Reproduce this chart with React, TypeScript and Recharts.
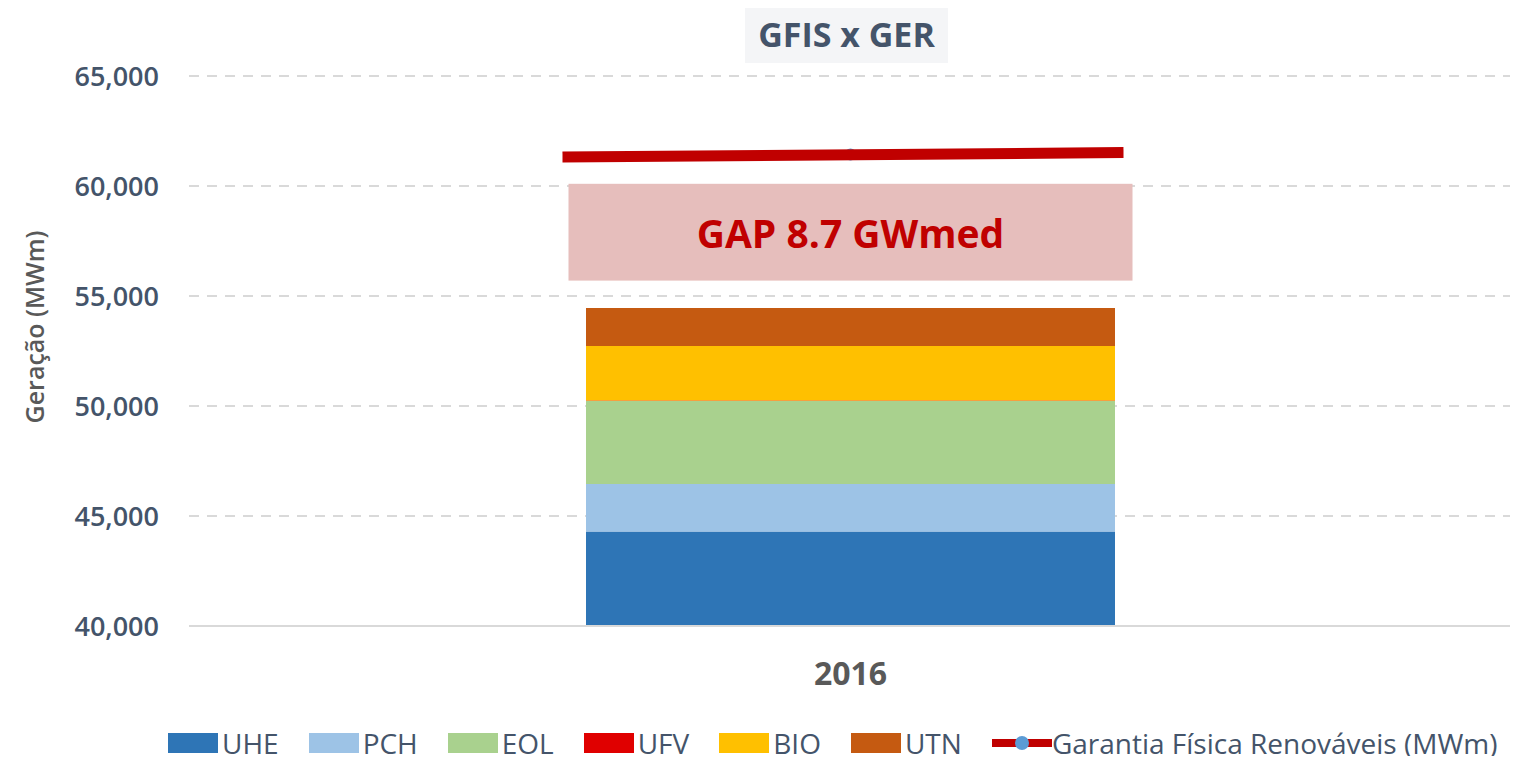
import React from "react";
import {
  ComposedChart,
  Bar,
  Line,
  XAxis,
  YAxis,
  CartesianGrid,
  ReferenceArea,
} from "recharts";

const years = ["2016"];
const uhe = [44300];
const pch = [2150];
const eol = [3780];
const ufv = [20];
const bio = [2480];
const utn = [1720];
const garantia = [61430];
const gapLow = 55700;
const gapHigh = 60100;
const gapText = "GAP 8.7 GWmed";
const yTicks = [40000, 45000, 50000, 55000, 60000, 65000];

const series = [
  { key: "UHE", color: "#2E75B6" },
  { key: "PCH", color: "#9DC3E6" },
  { key: "EOL", color: "#A9D18E" },
  { key: "UFV", color: "#E00000" },
  { key: "BIO", color: "#FFC000" },
  { key: "UTN", color: "#C55A11" },
];

const data = years.map((year, i) => ({
  year,
  UHE: uhe[i],
  PCH: pch[i],
  EOL: eol[i],
  UFV: ufv[i],
  BIO: bio[i],
  UTN: utn[i],
  GFR: garantia[i],
}));

const FONT = "'Open Sans', sans-serif";
const SLATE = "#44546A";

// red line drawn around the single point, wider than the bar
function GarantiaDot(props: any) {
  const { cx, cy } = props;
  if (cx == null || cy == null) return null;
  return (
    <g>
      <circle cx={cx} cy={cy} r={6} fill="#5B9BD5" />
      <line x1={cx - 288} y1={cy + 2.5} x2={cx + 273} y2={cy - 2} stroke="#C00000" strokeWidth={11} />
    </g>
  );
}

function GapBox(props: any) {
  const { x, y, width, height } = props;
  const mid = x + width / 2;
  return <rect x={mid - 282} y={y} width={564} height={height} fill="#E6BEBC" />;
}

function GapLabel(props: any) {
  const { viewBox } = props;
  const cx = viewBox.x + viewBox.width / 2;
  const cy = viewBox.y + viewBox.height / 2;
  return (
    <text
      x={cx}
      y={cy}
      textAnchor="middle"
      dominantBaseline="central"
      fill="#C00000"
      fontFamily={FONT}
      fontWeight={700}
      fontSize={39}
    >
      {gapText}
    </text>
  );
}

function YLabel(props: any) {
  const { viewBox } = props;
  const x = viewBox.x + 34;
  const y = viewBox.y + viewBox.height / 2 - 24;
  return (
    <text
      x={x}
      y={y}
      transform={`rotate(-90 ${x} ${y})`}
      textAnchor="middle"
      dominantBaseline="central"
      fontFamily={FONT}
      fontWeight={600}
      fontSize={25}
      fill="#595959"
    >
      Geração (MWm)
    </text>
  );
}

function LegendRow() {
  return (
    <div
      style={{
        position: "absolute",
        left: 168,
        top: 724,
        display: "flex",
        alignItems: "center",
        fontFamily: FONT,
        fontSize: 28,
        fontWeight: 500,
        color: SLATE,
        whiteSpace: "nowrap",
      }}
    >
      {series.map((s) => (
        <div key={s.key} style={{ display: "flex", alignItems: "center", marginRight: 30 }}>
          <span style={{ width: 50, height: 20, background: s.color, marginRight: 4 }} />
          <span>{s.key}</span>
        </div>
      ))}
      <div style={{ display: "flex", alignItems: "center" }}>
        <svg width={60} height={20}>
          <line x1={0} y1={10} x2={60} y2={10} stroke="#C00000" strokeWidth={8} />
          <circle cx={30} cy={10} r={7} fill="#5B9BD5" />
        </svg>
        <span>Garantia Física Renováveis (MWm)</span>
      </div>
    </div>
  );
}

export default function App() {
  return (
    <div style={{ position: "relative", width: 1518, height: 764, margin: -8, background: "#fff" }}>
      <div
        style={{
          position: "absolute",
          left: 745,
          top: 5,
          width: 203,
          height: 58,
          background: "#F4F5F7",
          display: "flex",
          alignItems: "center",
          justifyContent: "center",
          fontFamily: FONT,
          fontWeight: 700,
          fontSize: 34,
          color: SLATE,
        }}
      >
        GFIS x GER
      </div>
      <ComposedChart
        width={1518}
        height={764}
        data={data}
        margin={{ top: 76, right: 6, left: 0, bottom: 0 }}
        style={{ position: "absolute", left: 0, top: 0 }}
      >
        <CartesianGrid vertical={false} stroke="#D9D9D9" strokeWidth={2} strokeDasharray="10 8" />
        <XAxis
          dataKey="year"
          axisLine={{ stroke: "#D9D9D9", strokeWidth: 2 }}
          tickLine={false}
          tickMargin={30}
          height={138}
          tick={{ fontFamily: FONT, fontWeight: 700, fontSize: 32, fill: "#595959" }}
        />
        <YAxis
          domain={[40000, 65000]}
          ticks={yTicks}
          allowDataOverflow
          width={189}
          axisLine={false}
          tickLine={false}
          tickMargin={24}
          tickFormatter={(v: number) => v.toLocaleString("en-US")}
          tick={{ fontFamily: FONT, fontWeight: 600, fontSize: 27, fill: SLATE }}
          label={<YLabel />}
        />
        {series.map((s) => (
          <Bar key={s.key} dataKey={s.key} stackId="a" fill={s.color} barSize={529} isAnimationActive={false} />
        ))}
        <ReferenceArea
          y1={gapLow}
          y2={gapHigh}
          shape={<GapBox />}
          label={<GapLabel />}
          ifOverflow="visible"
        />
        <Line
          dataKey="GFR"
          stroke="#C00000"
          strokeWidth={11}
          dot={<GarantiaDot />}
          activeDot={false}
          isAnimationActive={false}
        />
      </ComposedChart>
      <LegendRow />
    </div>
  );
}
